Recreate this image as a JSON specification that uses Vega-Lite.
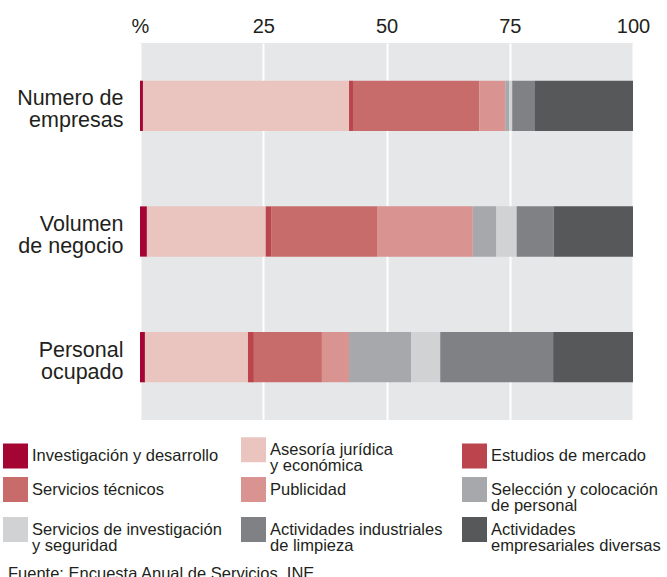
{
  "$schema": "https://vega.github.io/schema/vega-lite/v6.json",
  "width": 493,
  "height": 377,
  "autosize": {"type": "none"},
  "padding": {"left": 140, "top": 43, "right": 34, "bottom": 157},
  "background": "white",
  "config": {
    "font": "Liberation Sans",
    "view": {"fill": "#e6e7e9", "stroke": null}
  },
  "title": {
    "text": "Fuente: Encuesta Anual de Servicios. INE",
    "orient": "bottom",
    "anchor": "start",
    "frame": "group",
    "dx": -132,
    "offset": 11,
    "fontSize": 16.5,
    "fontWeight": "normal",
    "color": "#231f20",
    "font": "Liberation Sans"
  },
  "data": {
    "values": [
      {"fila": "Numero de empresas", "rama": "Investigación y desarrollo", "orden": 1, "pct": 0.6},
      {"fila": "Numero de empresas", "rama": "Asesoría jurídica y económica", "orden": 2, "pct": 41.8},
      {"fila": "Numero de empresas", "rama": "Estudios de mercado", "orden": 3, "pct": 0.8},
      {"fila": "Numero de empresas", "rama": "Servicios técnicos", "orden": 4, "pct": 25.6},
      {"fila": "Numero de empresas", "rama": "Publicidad", "orden": 5, "pct": 5.3},
      {"fila": "Numero de empresas", "rama": "Selección y colocación de personal", "orden": 6, "pct": 0.8},
      {"fila": "Numero de empresas", "rama": "Servicios de investigación y seguridad", "orden": 7, "pct": 0.6},
      {"fila": "Numero de empresas", "rama": "Actividades industriales de limpieza", "orden": 8, "pct": 4.5},
      {"fila": "Numero de empresas", "rama": "Actividades empresariales diversas", "orden": 9, "pct": 20.0},
      {"fila": "Volumen de negocio", "rama": "Investigación y desarrollo", "orden": 1, "pct": 1.4},
      {"fila": "Volumen de negocio", "rama": "Asesoría jurídica y económica", "orden": 2, "pct": 24.1},
      {"fila": "Volumen de negocio", "rama": "Estudios de mercado", "orden": 3, "pct": 1.2},
      {"fila": "Volumen de negocio", "rama": "Servicios técnicos", "orden": 4, "pct": 21.5},
      {"fila": "Volumen de negocio", "rama": "Publicidad", "orden": 5, "pct": 19.3},
      {"fila": "Volumen de negocio", "rama": "Selección y colocación de personal", "orden": 6, "pct": 4.8},
      {"fila": "Volumen de negocio", "rama": "Servicios de investigación y seguridad", "orden": 7, "pct": 4.1},
      {"fila": "Volumen de negocio", "rama": "Actividades industriales de limpieza", "orden": 8, "pct": 7.5},
      {"fila": "Volumen de negocio", "rama": "Actividades empresariales diversas", "orden": 9, "pct": 16.1},
      {"fila": "Personal ocupado", "rama": "Investigación y desarrollo", "orden": 1, "pct": 1.0},
      {"fila": "Personal ocupado", "rama": "Asesoría jurídica y económica", "orden": 2, "pct": 20.9},
      {"fila": "Personal ocupado", "rama": "Estudios de mercado", "orden": 3, "pct": 1.2},
      {"fila": "Personal ocupado", "rama": "Servicios técnicos", "orden": 4, "pct": 13.8},
      {"fila": "Personal ocupado", "rama": "Publicidad", "orden": 5, "pct": 5.5},
      {"fila": "Personal ocupado", "rama": "Selección y colocación de personal", "orden": 6, "pct": 12.6},
      {"fila": "Personal ocupado", "rama": "Servicios de investigación y seguridad", "orden": 7, "pct": 5.9},
      {"fila": "Personal ocupado", "rama": "Actividades industriales de limpieza", "orden": 8, "pct": 22.9},
      {"fila": "Personal ocupado", "rama": "Actividades empresariales diversas", "orden": 9, "pct": 16.2}
    ]
  },
  "mark": {"type": "bar", "strokeWidth": 0},
  "encoding": {
    "y": {
      "field": "fila",
      "type": "nominal",
      "sort": ["Numero de empresas", "Volumen de negocio", "Personal ocupado"],
      "scale": {"paddingInner": 0.6, "paddingOuter": 0.3},
      "axis": {
        "title": null,
        "ticks": false,
        "domain": false,
        "labelPadding": 17,
        "labelFontSize": 21.5,
        "labelLineHeight": 22,
        "labelOffset": -6.5,
        "labelColor": "#231f20",
        "labelAlign": "right",
        "labelBaseline": "middle",
        "labelLimit": 200,
        "labelExpr": "datum.value == 'Numero de empresas' ? ['Numero de', 'empresas'] : datum.value == 'Volumen de negocio' ? ['Volumen', 'de negocio'] : ['Personal', 'ocupado']"
      }
    },
    "x": {
      "field": "pct",
      "type": "quantitative",
      "stack": "zero",
      "scale": {"domain": [0, 100], "nice": false},
      "axis": {
        "orient": "top",
        "title": null,
        "values": [0, 25, 50, 75, 100],
        "ticks": false,
        "domain": false,
        "grid": true,
        "gridColor": "white",
        "gridWidth": 2,
        "gridOpacity": 1,
        "labelPadding": 7,
        "labelFontSize": 20,
        "labelColor": "#231f20",
        "labelFlush": false,
        "labelExpr": "datum.value == 0 ? '%' : datum.label"
      }
    },
    "color": {
      "field": "rama",
      "type": "nominal",
      "sort": ["Investigación y desarrollo", "Asesoría jurídica y económica", "Estudios de mercado", "Servicios técnicos", "Publicidad", "Selección y colocación de personal", "Servicios de investigación y seguridad", "Actividades industriales de limpieza", "Actividades empresariales diversas"],
      "scale": {
        "domain": ["Investigación y desarrollo", "Asesoría jurídica y económica", "Estudios de mercado", "Servicios técnicos", "Publicidad", "Selección y colocación de personal", "Servicios de investigación y seguridad", "Actividades industriales de limpieza", "Actividades empresariales diversas"],
        "range": ["#a50533", "#eac5c0", "#bb444d", "#c86c6b", "#d99391", "#a7a8ab", "#d1d2d4", "#808184", "#57585a"]
      },
      "legend": {
        "title": null,
        "orient": "none",
        "direction": "horizontal",
        "legendX": -137,
        "legendY": 394,
        "columns": 3,
        "columnPadding": 19,
        "rowPadding": 2,
        "symbolType": "square",
        "symbolSize": 625,
        "symbolStrokeWidth": 0,
        "symbolOpacity": 1,
        "labelFontSize": 16.5,
        "labelOffset": 4,
        "labelLimit": 300,
        "labelColor": "#231f20",
        "encode": {"labels": {"update": {"lineHeight": {"value": 16.5}}}},
        "labelExpr": "datum.label == 'Asesoría jurídica y económica' ? ['Asesoría jurídica', 'y económica'] : datum.label == 'Selección y colocación de personal' ? ['Selección y colocación', 'de personal'] : datum.label == 'Servicios de investigación y seguridad' ? ['Servicios de investigación', 'y seguridad'] : datum.label == 'Actividades industriales de limpieza' ? ['Actividades industriales', 'de limpieza'] : datum.label == 'Actividades empresariales diversas' ? ['Actividades', 'empresariales diversas'] : datum.label"
      }
    },
    "order": {"field": "orden", "type": "quantitative"}
  }
}
